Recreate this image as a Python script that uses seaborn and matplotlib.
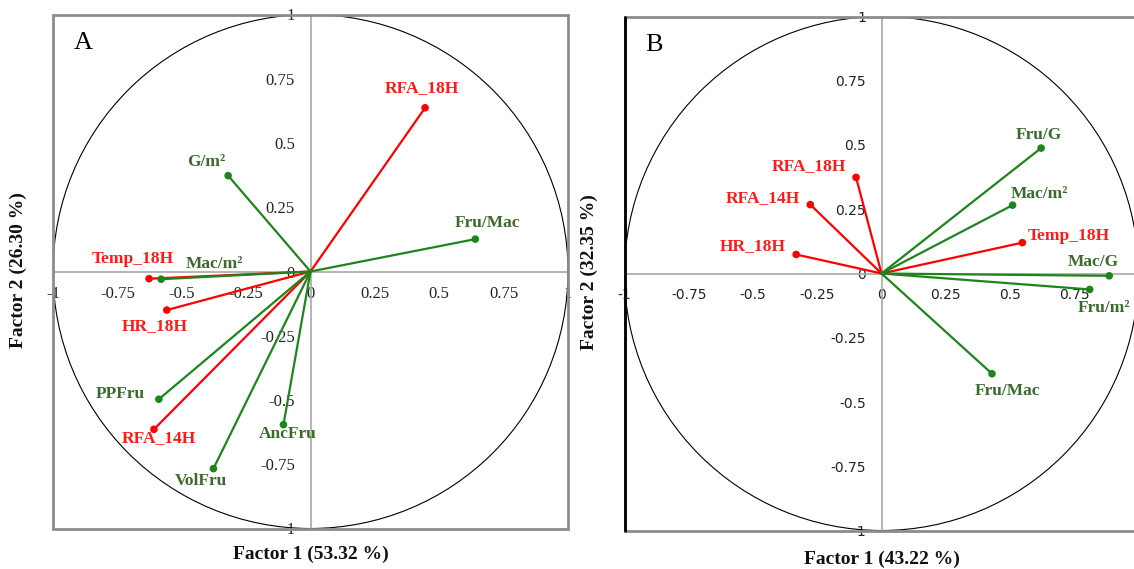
import matplotlib

matplotlib.use("Agg")

import matplotlib.pyplot as plt
import pandas as pd
import seaborn as sns
from matplotlib.patches import Circle, Rectangle

# Panel A correlations with the first two factors
a_vars = ["RFA_18H", "G/m²", "Fru/Mac", "Temp_18H", "Mac/m²",
          "HR_18H", "PPFru", "RFA_14H", "AncFru", "VolFru"]
a_f1 = [0.445, -0.32, 0.64, -0.627, -0.58, -0.558, -0.589, -0.608, -0.105, -0.377]
a_f2 = [0.637, 0.373, 0.126, -0.028, -0.03, -0.15, -0.497, -0.614, -0.596, -0.767]
a_group = ["clim", "crop", "crop", "clim", "crop", "clim", "crop", "clim", "crop", "crop"]

# Panel B
b_vars = ["Fru/G", "Mac/m²", "Temp_18H", "Mac/G", "RFA_18H",
          "RFA_14H", "HR_18H", "Fru/m²", "Fru/Mac"]
b_f1 = [0.621, 0.51, 0.548, 0.886, -0.099, -0.277, -0.332, 0.81, 0.43]
b_f2 = [0.488, 0.266, 0.12, -0.009, 0.374, 0.268, 0.074, -0.062, -0.39]
b_group = ["crop", "crop", "clim", "crop", "clim", "clim", "clim", "crop", "crop"]

tick_values = [-1, -0.75, -0.5, -0.25, 0, 0.25, 0.5, 0.75, 1]
tick_labels = ["-1", "-0.75", "-0.5", "-0.25", "0", "0.25", "0.5", "0.75", "1"]

# label offsets from the point, in pixels
a_offsets = {"RFA_18H": (-3, 20), "G/m²": (-22, 14), "Fru/Mac": (12, 16),
             "Temp_18H": (-16, 20), "Mac/m²": (53, 15), "HR_18H": (-12, -16),
             "PPFru": (-39, 5), "RFA_14H": (5, -9), "AncFru": (4, -9),
             "VolFru": (-13, -12)}
b_offsets = {"Fru/G": (-2, 13), "Mac/m²": (27, 11), "Temp_18H": (46, 7),
             "Mac/G": (-16, 14), "RFA_18H": (-47, 11), "RFA_14H": (-47, 7),
             "HR_18H": (-43, 8), "Fru/m²": (14, -19), "Fru/Mac": (15, -17)}

line_colors = {"clim": "#ff0000", "crop": "#1c861c"}
text_colors = {"clim": "#ff1a1a", "crop": "#3a6b2c"}
SERIF = "Liberation Serif"

sns.set_theme(style="white")
plt.rcParams["font.family"] = [SERIF, "DejaVu Sans"]


def draw_panel(ax, names, f1, f2, group, offsets, letter, xlab, ylab, tick_font, tick_size):
    df = pd.DataFrame({"var": names, "f1": f1, "f2": f2, "group": group})
    ax.set_xlim(-1, 1)
    ax.set_ylim(-1, 1)
    for side in ["top", "right"]:
        ax.spines[side].set_visible(False)
    for side in ["left", "bottom"]:
        ax.spines[side].set_position(("data", 0))
        ax.spines[side].set_color("#a8a8a8")
        ax.spines[side].set_linewidth(1.2)
    ax.set_xticks(tick_values)
    ax.set_xticklabels(tick_labels, fontfamily=tick_font, fontsize=tick_size)
    ax.set_yticks(tick_values)
    ax.set_yticklabels(tick_labels, fontfamily=tick_font, fontsize=tick_size)
    ax.tick_params(axis="both", direction="inout", length=4.5, width=0.9,
                   color="#8c8c8c", labelcolor="#222222")
    ax.tick_params(axis="x", pad=8)
    ax.tick_params(axis="y", pad=9)

    ax.add_patch(Circle((0, 0), 1, fill=False, edgecolor="black", lw=0.8, zorder=2))
    ax.add_patch(Rectangle((0, 0), 1, 1, transform=ax.transAxes, fill=False,
                           edgecolor="#8c8c8c", lw=2, clip_on=False, zorder=5))

    for g in ["clim", "crop"]:
        sub = df[df["group"] == g]
        for _, row in sub.iterrows():
            ax.plot([0, row["f1"]], [0, row["f2"]], color=line_colors[g], lw=1.6, zorder=3)
    sns.scatterplot(data=df, x="f1", y="f2", hue="group", palette=line_colors,
                    s=30, edgecolor="none", legend=False, zorder=4, ax=ax)
    ax.set_xlabel("")
    ax.set_ylabel("")

    for _, row in df.iterrows():
        ax.annotate(row["var"], (row["f1"], row["f2"]), xytext=offsets[row["var"]],
                    textcoords="offset pixels", ha="center", va="center",
                    fontfamily=SERIF, fontweight="bold", fontsize=12.5,
                    color=text_colors[row["group"]], zorder=6)

    ax.text(0.058, 0.944, letter, transform=ax.transAxes, ha="center", va="center",
            fontfamily=SERIF, fontsize=19, color="black")
    ax.text(0.5, xlab[1], xlab[0], transform=ax.transAxes, ha="center", va="center",
            fontfamily=SERIF, fontweight="bold", fontsize=14, color="#111111")
    ax.text(-0.068, 0.503, ylab, transform=ax.transAxes, ha="center", va="center",
            rotation=90, fontfamily=SERIF, fontweight="bold", fontsize=14, color="#111111")


fig = plt.figure(figsize=(11.34, 5.69), dpi=100)
ax_a = fig.add_axes([53 / 1134, 40.5 / 569, 515 / 1134, 514 / 569])
ax_b = fig.add_axes([624.5 / 1134, 38.5 / 569, 514 / 1134, 514 / 569])

draw_panel(ax_a, a_vars, a_f1, a_f2, a_group, a_offsets, "A",
           ("Factor 1 (53.32 %)", -0.05), "Factor 2 (26.30 %)", SERIF, 12)
draw_panel(ax_b, b_vars, b_f1, b_f2, b_group, b_offsets, "B",
           ("Factor 1 (43.22 %)", -0.057), "Factor 2 (32.35 %)", "DejaVu Sans", 10)
ax_b.plot([0, 0], [0, 1], transform=ax_b.transAxes, color="black", lw=2,
          clip_on=False, zorder=6)
# the right end of panel B runs past the picture edge, so its "1" is not shown
ax_b.get_xticklabels()[-1].set_visible(False)

fig.savefig("out.png", dpi=100, facecolor="white")
